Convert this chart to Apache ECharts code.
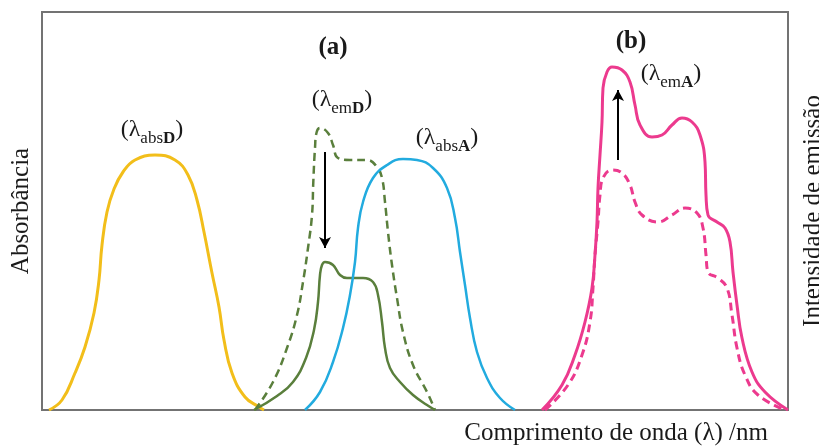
<!DOCTYPE html>
<html>
<head>
<meta charset="utf-8">
<script src="https://cdn.jsdelivr.net/npm/echarts@6/dist/echarts.min.js"></script>
<style>
  html, body { margin: 0; padding: 0; background: #fff; }
  #chart { width: 819px; height: 447px; }
</style>
</head>
<body>
<div id="chart"></div>
<script>
// Schematic spectra: [wavelength (arb. units), intensity (arb. units)]
const absD = [[7,0],[20,10],[33,37],[43,63],[52,97],[57,130],[60,165],[65,198],[72,221],[81,238],[93,250],[113,255],[133,250],[146,235],[155,210],[162,178],[170,137],[177,103],[182,70],[190,37],[203,13],[217,3],[222,0]];
const emD = [[213,0],[231,28],[245,62],[255,95],[261,128],[266,162],[270,195],[271.3,228],[273,262],[274.7,278],[278,282],[286,277],[291,265],[296,252],[308,250],[325,250],[335,243],[340,232],[343,208],[346,178],[350,145],[355,112],[361,78],[371,45],[385,18],[393,0]];
const emDQuenched = [[212,0],[235,14],[251,28],[264,52],[272,80],[276,108],[278,135],[280,145],[283,148],[291,145],[298,135],[305,132],[321,132],[331,128],[336,115],[340,88],[343,62],[348,42],[358,28],[371,15],[385,5],[393,0]];
const absA = [[263,0],[278,18],[291,48],[301,82],[308,115],[313,148],[316,182],[321,208],[331,232],[345,245],[361,251],[375,250],[391,242],[405,222],[413,192],[418,158],[423,125],[428,92],[435,58],[445,32],[458,12],[473,0]];
const emAEnhanced = [[500,0],[520,25],[533,55],[543,88],[550,122],[553,155],[555,188],[556,222],[558,255],[560,288],[561,322],[565,338],[570,343],[580,340],[588,328],[593,305],[598,285],[610,273],[620,275],[630,285],[640,292],[650,288],[658,275],[663,248],[664,215],[666,195],[675,188],[683,182],[688,168],[691,138],[695,105],[700,72],[710,38],[723,18],[746,0]];
const emA = [[503,0],[526,25],[540,55],[548,88],[551,122],[553,155],[556,188],[558,215],[561,232],[570,240],[580,237],[588,225],[593,208],[600,195],[616,188],[630,195],[643,202],[655,197],[661,182],[664,155],[666,138],[676,132],[685,122],[690,95],[695,62],[703,35],[716,15],[743,0]];

// Arrows: [x, yFrom, yTo]
const arrowD = [283, 258, 162];
const arrowA = [576, 250, 320];

// Annotation anchors [x, y]
const labelAbsD = [110, 280];
const labelEmD = [300, 310];
const labelAbsA = [405, 272];
const labelEmA = [629, 336];
const labelPanelA = [291, 362];
const labelPanelB = [589, 368];

const SERIF = "'Liberation Serif', 'Times New Roman', serif";
const TXT = '#1a1a1a';

const rich = {
  p: { fontSize: 24, fontFamily: SERIF, color: TXT, lineHeight: 34, verticalAlign: 'middle' },
  s: { fontSize: 17, fontFamily: SERIF, color: TXT, lineHeight: 17, verticalAlign: 'bottom' },
  b: { fontSize: 17, fontFamily: SERIF, color: TXT, lineHeight: 17, verticalAlign: 'bottom', fontWeight: 'bold' },
  t: { fontSize: 25, fontFamily: SERIF, color: TXT, fontWeight: 'bold' }
};

function note(coord, text) {
  return {
    coord: coord,
    symbol: 'circle',
    symbolSize: 0,
    itemStyle: { color: 'transparent' },
    label: { show: true, position: 'inside', formatter: text, rich: rich }
  };
}

function arrow(a) {
  return {
    silent: true,
    symbol: ['none', 'arrow'],
    symbolSize: [9, 11],
    lineStyle: { color: '#000', width: 2, type: 'solid' },
    label: { show: false },
    data: [[{ coord: [a[0], a[1]] }, { coord: [a[0], a[2]] }]]
  };
}

function curve(name, data, color, width, dashed, yAxisIndex) {
  return {
    name: name,
    type: 'line',
    yAxisIndex: yAxisIndex,
    data: data,
    smooth: 0.45,
    symbol: 'none',
    lineStyle: { color: color, width: width, type: dashed ? [8, 5] : 'solid' },
    silent: true,
    z: 3
  };
}

const chart = echarts.init(document.getElementById('chart'), null, { renderer: 'canvas' });

const hiddenAxis = {
  axisLine: { show: false },
  axisTick: { show: false },
  axisLabel: { show: false },
  splitLine: { show: false }
};

const option = {
  animation: false,
  backgroundColor: '#fff',
  grid: {
    left: 42, right: 31, top: 12, bottom: 37,
    outerBoundsMode: 'none',
    show: true, borderColor: '#737373', borderWidth: 2, backgroundColor: 'transparent'
  },
  xAxis: Object.assign({
    type: 'value', min: 0, max: 746,
    name: 'Comprimento de onda (λ) /nm',
    nameLocation: 'end',
    nameGap: -20,
    nameTextStyle: { fontFamily: SERIF, fontSize: 25, color: TXT, align: 'right', verticalAlign: 'top', padding: [11, 0, 0, 0] }
  }, hiddenAxis),
  yAxis: [
    Object.assign({
      type: 'value', min: 0, max: 398, position: 'left',
      name: 'Absorbância', nameLocation: 'middle', nameRotate: 90, nameGap: 8,
      nameTextStyle: { fontFamily: SERIF, fontSize: 25, color: TXT }
    }, hiddenAxis),
    Object.assign({
      type: 'value', min: 0, max: 398, position: 'right',
      name: 'Intensidade de emissão', nameLocation: 'middle', nameRotate: 90, nameGap: 13,
      nameTextStyle: { fontFamily: SERIF, fontSize: 25, color: TXT }
    }, hiddenAxis)
  ],
  series: [
    Object.assign(curve('absD', absD, '#F2BE1A', 3, false, 0), {
      markPoint: { silent: true, data: [note(labelAbsD, '{p|(λ}{s|abs}{b|D}{p|)}')] }
    }),
    Object.assign(curve('emD', emD, '#5A7F3C', 2.5, true, 0), {
      markPoint: { silent: true, data: [note(labelEmD, '{p|(λ}{s|em}{b|D}{p|)}'), note(labelPanelA, '{t|(a)}')] },
      markLine: arrow(arrowD)
    }),
    curve('emDQuenched', emDQuenched, '#5A7F3C', 2.5, false, 0),
    Object.assign(curve('absA', absA, '#22ABDF', 2.5, false, 0), {
      markPoint: { silent: true, data: [note(labelAbsA, '{p|(λ}{s|abs}{b|A}{p|)}')] }
    }),
    Object.assign(curve('emAEnhanced', emAEnhanced, '#EC3A8E', 3, false, 1), {
      markPoint: { silent: true, data: [note(labelEmA, '{p|(λ}{s|em}{b|A}{p|)}'), note(labelPanelB, '{t|(b)}')] },
      markLine: arrow(arrowA)
    }),
    curve('emA', emA, '#EC3A8E', 3, true, 1)
  ]
};

chart.setOption(option);
</script>
</body>
</html>
